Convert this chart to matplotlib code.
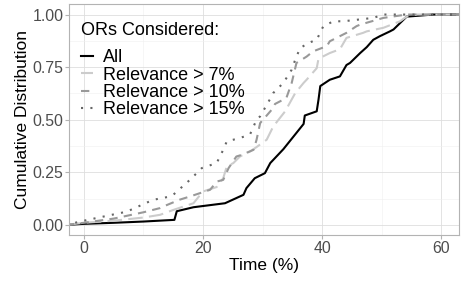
import numpy as np
import matplotlib
matplotlib.use("Agg")
import matplotlib.pyplot as plt

plt.rcParams["font.family"] = ["Liberation Sans", "DejaVu Sans"]

# Cumulative distributions
all_x = [-3, 0, 5, 10, 15.2, 15.6, 18.4, 23.7, 26.8, 27.3, 28.7, 30.4, 31.3, 32.1, 33.5, 35.2,
         36.9, 37.1, 39.1, 39.4, 39.7, 41.3, 43, 44.1, 44.7, 46.4, 47.5, 48.6, 49.7, 51.4, 52,
         53.7, 54.2, 58.7, 64]
all_y = [0, 0.005, 0.01, 0.016, 0.024, 0.065, 0.084, 0.103, 0.143, 0.175, 0.222, 0.246, 0.294,
         0.318, 0.36, 0.42, 0.48, 0.52, 0.54, 0.595, 0.66, 0.69, 0.706, 0.76, 0.77, 0.817, 0.845,
         0.88, 0.897, 0.92, 0.929, 0.976, 0.99, 1.0, 1.0]

r7_x = [-3, 0, 5, 10, 12.8, 15, 18.4, 20, 22.3, 23.4, 24, 25.1, 26.2, 27.9, 29, 30.7, 31.8, 33.8,
        35.5, 36.9, 37.4, 39.1, 39.4, 41.3, 43, 44.1, 46.9, 47.5, 50.3, 53.1, 54.2, 56, 64]
r7_y = [0, 0.01, 0.02, 0.035, 0.048, 0.071, 0.103, 0.159, 0.18, 0.222, 0.278, 0.294, 0.325, 0.349,
        0.37, 0.405, 0.468, 0.54, 0.627, 0.675, 0.69, 0.745, 0.79, 0.817, 0.835, 0.889, 0.913,
        0.92, 0.937, 0.968, 0.99, 1.0, 1.0]

r10_x = [-3, 0, 5, 10, 12.8, 13.3, 16.1, 17.8, 21.2, 22.3, 23.4, 24.3, 25.6, 26.5, 28.5, 29, 29.6,
         31.8, 32.1, 34, 34.9, 35.7, 37.4, 38.5, 40.8, 41.3, 44.1, 45.8, 46.4, 50.3, 54.2, 64]
r10_y = [0, 0.01, 0.03, 0.06, 0.08, 0.087, 0.12, 0.135, 0.167, 0.206, 0.214, 0.27, 0.325, 0.333,
         0.357, 0.405, 0.484, 0.556, 0.575, 0.603, 0.675, 0.77, 0.80, 0.825, 0.85, 0.873, 0.913,
         0.945, 0.952, 0.984, 1.0, 1.0]

r15_x = [-3, 0, 7.2, 11.6, 14.5, 15, 17.8, 19.8, 22.3, 23.4, 24, 26.2, 27.9, 29, 29.6, 31.3, 31.8,
         33.5, 34.9, 35.5, 36.3, 37.7, 39.1, 40.2, 41.9, 43.6, 48.6, 50.3, 64]
r15_y = [0, 0.02, 0.063, 0.119, 0.135, 0.143, 0.214, 0.27, 0.294, 0.357, 0.397, 0.413, 0.43, 0.5,
         0.516, 0.6, 0.627, 0.675, 0.738, 0.786, 0.84, 0.865, 0.88, 0.944, 0.968, 0.968, 0.984,
         1.0, 1.0]

labels = ["All", "Relevance > 7%", "Relevance > 10%", "Relevance > 15%"]

fig = plt.figure(figsize=(4.61, 2.81), dpi=100)
ax = fig.add_axes([0.1497, 0.1637, 0.846, 0.822])

ax.plot(all_x, all_y, color="black", lw=1.5, label=labels[0])
ax.plot(r7_x, r7_y, color="#cccccc", lw=1.5, dashes=(7, 3), label=labels[1])
ax.plot(r10_x, r10_y, color="#999999", lw=1.5, dashes=(4, 3), label=labels[2])
ax.plot(r15_x, r15_y, color="#666666", lw=1.5, dashes=(1, 3.5), label=labels[3])

ax.set_xlim(-2.5, 63)
ax.set_ylim(-0.048, 1.05)
ax.set_xticks([0, 20, 40, 60])
ax.set_yticks([0, 0.25, 0.5, 0.75, 1.0])
ax.set_yticklabels(["0.00", "0.25", "0.50", "0.75", "1.00"])
ax.set_xticks([10, 30, 50], minor=True)
ax.set_yticks([0.125, 0.375, 0.625, 0.875], minor=True)

ax.grid(True, which="major", color="#dedede", lw=0.6)
ax.grid(True, which="minor", color="#efefef", lw=0.4)
ax.set_axisbelow(True)
for s in ax.spines.values():
    s.set_color("#b3b3b3")
    s.set_linewidth(0.8)
ax.tick_params(which="major", colors="#b3b3b3", length=2.9, width=0.8, labelsize=11.4,
               labelcolor="#4d4d4d", pad=1)
ax.tick_params(axis="x", which="major", pad=1.5)
ax.tick_params(which="minor", length=0)

ax.set_xlabel("Time (%)", fontsize=12.5, labelpad=1)
ax.set_ylabel("Cumulative Distribution", fontsize=12.5, labelpad=2)

leg = ax.legend(title="ORs Considered:", loc="upper left", frameon=False, fontsize=13,
                title_fontsize=13, handlelength=0.67, handletextpad=0.55, labelspacing=0.02,
                borderaxespad=0.0, borderpad=0.0, bbox_to_anchor=(0.03, 0.92))
leg._legend_box.align = "left"
leg._legend_box.sep = 7

fig.savefig("out.png", dpi=100)
